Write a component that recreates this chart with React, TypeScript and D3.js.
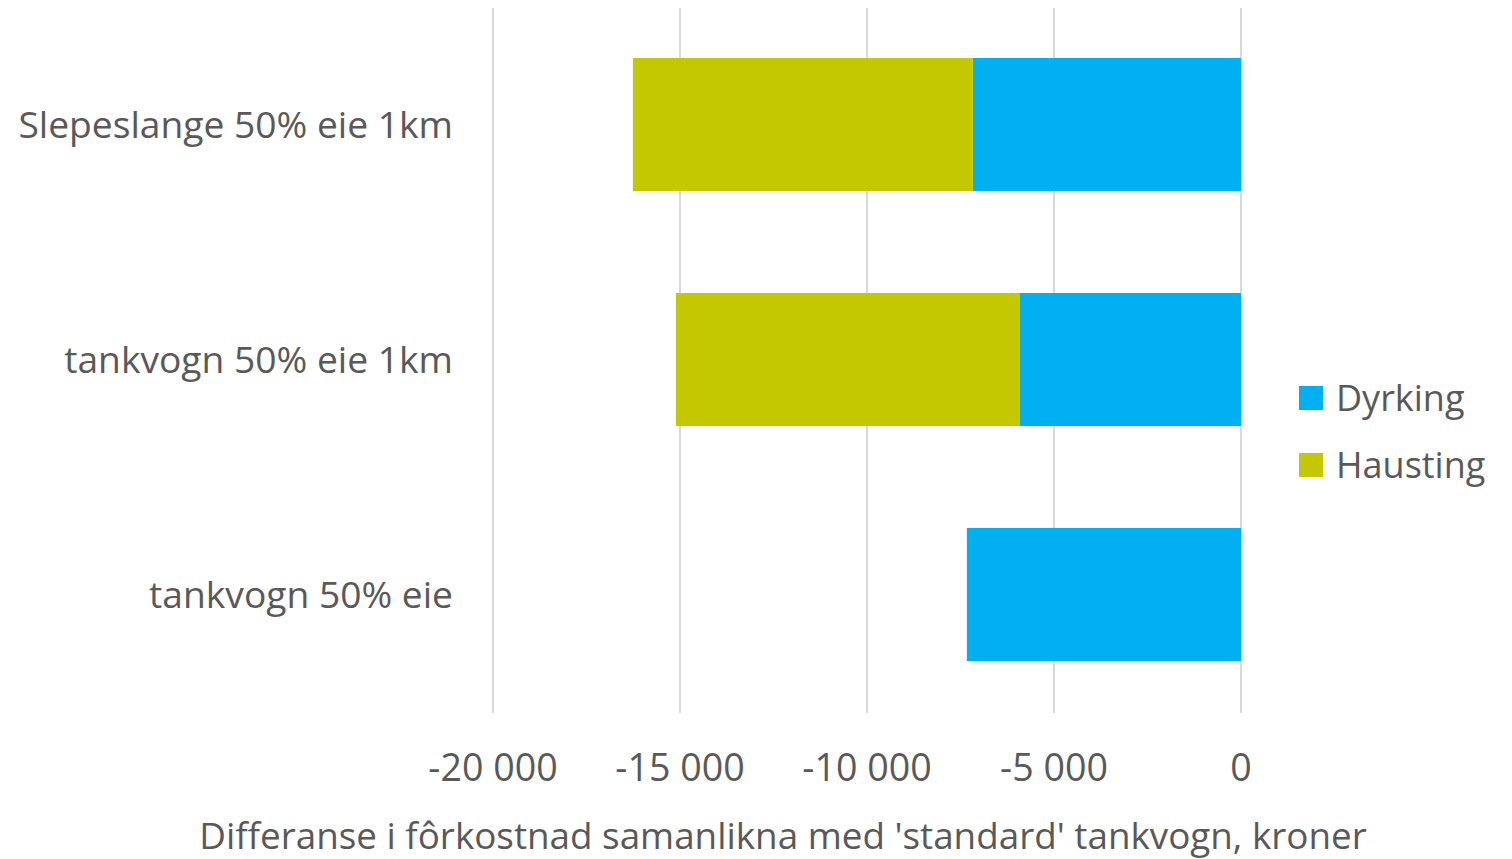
import React from "react";
import * as d3 from "d3";

const categories = ["Slepeslange 50% eie 1km", "tankvogn 50% eie 1km", "tankvogn 50% eie"];
const dyrking = [-7170, -5910, -7330];
const hausting = [-9090, -9200, 0];
const seriesNames = ["Dyrking", "Hausting"];
const seriesColors = ["#00B0F0", "#C4C800"];
const tickValues = [-20000, -15000, -10000, -5000, 0];
const axisTitle = "Differanse i fôrkostnad samanlikna med 'standard' tankvogn, kroner";

const W = 1512;
const H = 859;
const FONT = "'Open Sans', sans-serif";
const TEXT = "#595959";

export default function App() {
  const x = d3.scaleLinear().domain([-20000, 0]).range([493, 1241]);
  const y = d3.scaleBand<string>().domain(categories).range([7, 712]).paddingInner(0.434).paddingOuter(0.217);
  const fmt = (v: number) => (v === 0 ? "0" : d3.format(",")(v).replace(/,/g, " ").replace("−", "-"));

  const bars: { cat: string; x0: number; x1: number; color: string }[] = [];
  categories.forEach((c, i) => {
    const d = dyrking[i];
    const h = hausting[i];
    bars.push({ cat: c, x0: d, x1: 0, color: seriesColors[0] });
    if (h !== 0) bars.push({ cat: c, x0: d + h, x1: d, color: seriesColors[1] });
  });

  return (
    <svg width={W} height={H} style={{ position: "absolute", left: 0, top: 0, background: "#fff" }} fontFamily={FONT}>
      {tickValues.map((t) => (
        <line key={"g" + t} x1={x(t)} x2={x(t)} y1={8} y2={713} stroke="#D9D9D9" strokeWidth={2} />
      ))}
      {bars.map((b, i) => (
        <rect key={i} x={x(b.x0)} y={y(b.cat)!} width={x(b.x1) - x(b.x0)} height={y.bandwidth()} fill={b.color} />
      ))}
      {categories.map((c) => (
        <text key={c} x={453} y={y(c)! + y.bandwidth() / 2} dy="0.35em" textAnchor="end" fontSize={37.2} fill={TEXT}>
          {c}
        </text>
      ))}
      {tickValues.map((t) => (
        <text key={"t" + t} x={x(t)} y={781} textAnchor="middle" fontSize={37.6} fill={TEXT}>
          {fmt(t)}
        </text>
      ))}
      <text x={783} y={849} textAnchor="middle" fontSize={36.8} fill={TEXT}>
        {axisTitle}
      </text>
      {seriesNames.map((s, i) => (
        <g key={s} transform={`translate(1299, ${386 + i * 67})`}>
          <rect width={24} height={24} fill={seriesColors[i]} />
          <text x={37} y={12} dy="0.35em" fontSize={36} fill={TEXT}>
            {s}
          </text>
        </g>
      ))}
    </svg>
  );
}
